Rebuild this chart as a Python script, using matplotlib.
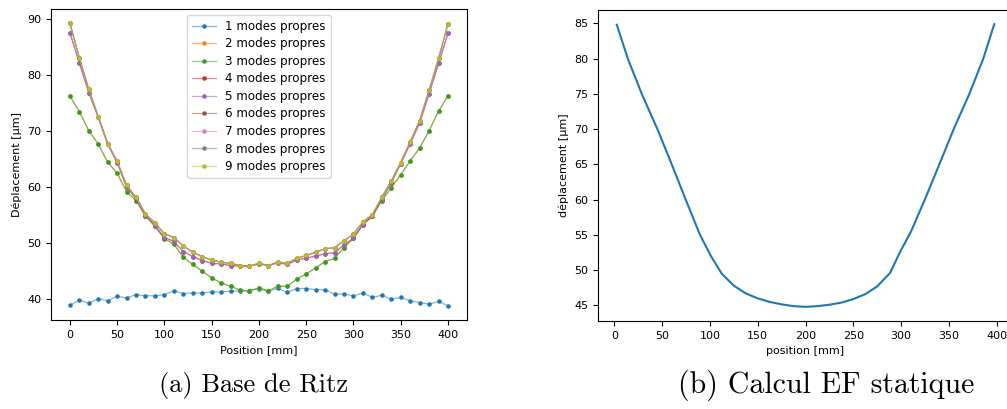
import matplotlib
matplotlib.use("Agg")
import matplotlib.pyplot as plt
from matplotlib.colors import to_rgba

# ---- data: Ritz basis (left) ----
positions = [0, 10, 20, 30, 40, 50, 60, 70, 80, 90, 100, 110, 120, 130, 140, 150, 160,
             170, 180, 190, 200, 210, 220, 230, 240, 250, 260, 270, 280, 290, 300, 310,
             320, 330, 340, 350, 360, 370, 380, 390, 400]

modes1 = [38.9, 39.8, 39.3, 40.1, 39.7, 40.5, 40.2, 40.8, 40.6, 40.6, 40.8, 41.5, 41.0, 41.1,
          41.1, 41.3, 41.3, 41.4, 41.45, 41.5, 41.9, 41.4, 41.95, 41.2, 41.9, 41.9, 41.7,
          41.7, 40.9, 40.9, 40.6, 41.1, 40.3, 40.7, 40.0, 40.3, 39.7, 39.4, 39.1, 39.6, 38.8]

modes3 = [76.3, 73.5, 70.1, 67.7, 64.5, 62.5, 59.2, 57.6, 54.9, 53.0, 50.8, 49.8, 47.5, 46.2,
          45.0, 43.8, 42.9, 42.3, 41.6, 41.5, 42.0, 41.5, 42.3, 42.3, 43.6, 44.5, 45.6, 46.7,
          47.3, 49.2, 50.9, 53.4, 54.9, 57.6, 59.9, 62.2, 64.7, 67.0, 70.1, 73.6, 76.3]
modes2 = list(modes3)

modes5 = [87.6, 82.2, 76.9, 72.5, 67.7, 64.4, 60.0, 58.0, 54.9, 53.1, 51.0, 50.3, 48.5, 47.6,
          46.9, 46.4, 46.3, 46.0, 45.9, 45.9, 46.3, 46.0, 46.5, 46.2, 47.0, 47.3, 47.7, 48.1,
          48.3, 49.7, 50.9, 53.3, 54.8, 57.9, 60.8, 64.2, 67.8, 71.5, 76.7, 82.1, 87.5]
modes4 = list(modes5)

modes9 = [89.3, 83.1, 77.5, 72.6, 67.8, 64.6, 60.3, 58.2, 55.2, 53.6, 51.7, 51.0, 49.5, 48.4,
          47.6, 47.0, 46.6, 46.4, 46.0, 45.9, 46.4, 46.0, 46.6, 46.4, 47.3, 47.8, 48.4, 49.0,
          49.2, 50.4, 51.6, 53.8, 55.1, 58.2, 61.1, 64.4, 68.1, 71.9, 77.3, 83.0, 89.2]
modes6 = list(modes9)
modes7 = list(modes9)
modes8 = list(modes9)

series = [modes1, modes2, modes3, modes4, modes5, modes6, modes7, modes8, modes9]
labels = [f"{i} modes propres" for i in range(1, 10)]

# ---- data: static FE computation (right) ----
ef_position = [2.5, 14, 28.6, 45, 60, 74.6, 89.6, 101, 112.3, 125, 137.5, 150, 162.5, 175,
               187.5, 200, 212.5, 225, 237.5, 250, 262.5, 275, 288.4, 299, 310.4, 325.4,
               340, 355, 371.4, 386, 397.5]
ef_displacement = [84.8, 80.0, 75.0, 70.0, 65.0, 60.0, 55.0, 52.0, 49.5, 47.8, 46.7, 46.0,
                   45.5, 45.15, 44.9, 44.8, 44.9, 45.1, 45.4, 45.9, 46.6, 47.7, 49.6, 52.6,
                   55.5, 60.2, 65.0, 70.0, 75.0, 80.0, 84.9]

fig = plt.figure(figsize=(10.07, 4.09), dpi=100)

ax1 = fig.add_axes([0.0506, 0.2176, 0.4131, 0.7604])
cycle = plt.rcParams['axes.prop_cycle'].by_key()['color']
for i, (vals, lab) in enumerate(zip(series, labels)):
    c = cycle[i % len(cycle)]
    ax1.plot(positions, vals, '.-', lw=0.9, ms=4.5, color=to_rgba(c, 0.55),
             mfc=c, mec=c, label=lab)
ax1.set_xlabel("Position [mm]", fontsize=8)
ax1.set_ylabel("Déplacement [µm]", fontsize=8)
ax1.tick_params(labelsize=8)
ax1.legend(loc='upper center', fontsize=8.6, labelspacing=0.38)

ax2 = fig.add_axes([0.5938, 0.2152, 0.4123, 0.7604])
ax2.plot(ef_position, ef_displacement, lw=1.5)
ax2.set_xlabel("position [mm]", fontsize=8)
ax2.set_ylabel("déplacement [µm]", fontsize=8)
ax2.tick_params(labelsize=8)

fig.text(0.2515, 0.058, "(a) Base de Ritz", fontsize=19, family='cmr10',
         ha='center', va='center')
fig.text(0.8205, 0.058, "(b) Calcul EF statique", fontsize=21.5, family='cmr10',
         ha='center', va='center')

fig.savefig("out.png", dpi=100)
